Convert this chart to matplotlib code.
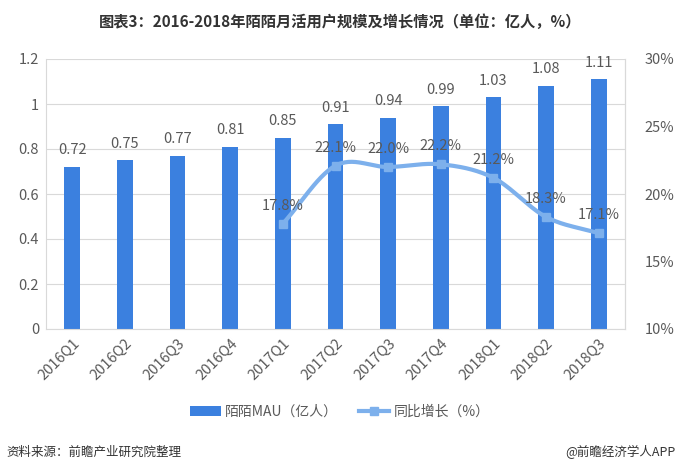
import numpy as np
import matplotlib
matplotlib.use("Agg")
import matplotlib.pyplot as plt
from matplotlib.lines import Line2D
from matplotlib.patches import Patch

plt.rcParams['font.family'] = ['Noto Sans CJK SC', 'DejaVu Sans']

categories = ['2016Q1', '2016Q2', '2016Q3', '2016Q4', '2017Q1', '2017Q2', '2017Q3',
              '2017Q4', '2018Q1', '2018Q2', '2018Q3']
mau = [0.72, 0.75, 0.77, 0.81, 0.85, 0.91, 0.94, 0.99, 1.03, 1.08, 1.11]
growth_idx = [4, 5, 6, 7, 8, 9, 10]
growth = [17.8, 22.1, 22.0, 22.2, 21.2, 18.3, 17.1]

left_ticks = [0, 0.2, 0.4, 0.6, 0.8, 1.0, 1.2]
left_labels = ['0', '0.2', '0.4', '0.6', '0.8', '1', '1.2']
right_ticks = [10, 15, 20, 25, 30]

bar_color = '#3B80DF'
line_color = '#7DB0EC'
text_color = '#595959'
grid_color = '#D9D9D9'

fig = plt.figure(figsize=(6.8, 4.7), dpi=100)
ax = fig.add_axes([46/680, 1-329/470, (625-46)/680, (329-59)/470])
ax2 = ax.twinx()

x = np.arange(len(categories))
ax.bar(x, mau, width=0.3, color=bar_color, zorder=2)
for xi, v in zip(x, mau):
    ax.annotate(f'{v:.2f}', (xi, v), xytext=(0, 7), textcoords='offset points',
                ha='center', va='bottom', fontsize=10.5, color=text_color)

ax.set_ylim(0, 1.2)
ax.set_xlim(-0.5, len(categories) - 0.5)
ax.set_yticks(left_ticks)
ax.set_yticklabels(left_labels)
ax.set_xticks(x)
ax.set_xticklabels(categories, rotation=45, ha='right', rotation_mode='anchor')
ax.yaxis.grid(True, color=grid_color, linewidth=0.8, zorder=0)
ax.set_axisbelow(True)
ax.tick_params(axis='both', length=0, labelsize=10.5, colors=text_color, pad=5)
ax.spines['top'].set_visible(False)
for s in ['left', 'right', 'bottom']:
    ax.spines[s].set_color(grid_color)

# smooth line via Catmull-Rom
gx = np.array(growth_idx, dtype=float)
gy = np.array(growth, dtype=float)
px = np.concatenate([[2*gx[0]-gx[1]], gx, [2*gx[-1]-gx[-2]]])
py = np.concatenate([[2*gy[0]-gy[1]], gy, [2*gy[-1]-gy[-2]]])
sx, sy = [], []
for i in range(1, len(px)-2):
    t = np.linspace(0, 1, 30)
    p0x, p1x, p2x, p3x = px[i-1:i+3]
    p0y, p1y, p2y, p3y = py[i-1:i+3]
    tt, ttt = t*t, t*t*t
    sx.append(0.5*((2*p1x) + (-p0x+p2x)*t + (2*p0x-5*p1x+4*p2x-p3x)*tt + (-p0x+3*p1x-3*p2x+p3x)*ttt))
    sy.append(0.5*((2*p1y) + (-p0y+p2y)*t + (2*p0y-5*p1y+4*p2y-p3y)*tt + (-p0y+3*p1y-3*p2y+p3y)*ttt))
ax2.plot(np.concatenate(sx), np.concatenate(sy), color=line_color, linewidth=3, zorder=3)
ax2.plot(gx, gy, linestyle='none', marker='s', markersize=6, color=line_color, zorder=4)
for xi, v in zip(gx, gy):
    ax2.annotate(f'{v:.1f}%', (xi, v), xytext=(0, 8), textcoords='offset points',
                 ha='center', va='bottom', fontsize=10.5, color=text_color)
ax2.set_ylim(10, 30)
ax2.set_yticks(right_ticks)
ax2.set_yticklabels([f'{t}%' for t in right_ticks])
ax2.tick_params(axis='y', length=0, labelsize=10.5, colors=text_color, pad=14)
for s in ['top', 'left', 'bottom']:
    ax2.spines[s].set_visible(False)
ax2.spines['right'].set_color(grid_color)

handles = [Patch(facecolor=bar_color, edgecolor='none'),
           Line2D([0], [0], color=line_color, linewidth=3, marker='s', markersize=6)]
fig.legend(handles, ['陌陌MAU（亿人）', '同比增长（%）'], loc='center',
           bbox_to_anchor=(0.5, 1-412/470), ncol=2, frameon=False, fontsize=10,
           labelcolor=text_color, handlelength=2.2, columnspacing=1.5, handletextpad=0.3)

fig.text(0.5, 1-22/470, '图表3：2016-2018年陌陌月活用户规模及增长情况（单位：亿人，%）',
         ha='center', va='center', fontsize=11, fontweight='bold', color='#333333')
fig.text(6/680, 1-452/470, '资料来源：前瞻产业研究院整理', ha='left', va='center',
         fontsize=9, style='italic', color='#333333')
fig.text(675/680, 1-452/470, '@前瞻经济学人APP', ha='right', va='center',
         fontsize=9, color='#333333')

fig.savefig('out.png', dpi=100)
